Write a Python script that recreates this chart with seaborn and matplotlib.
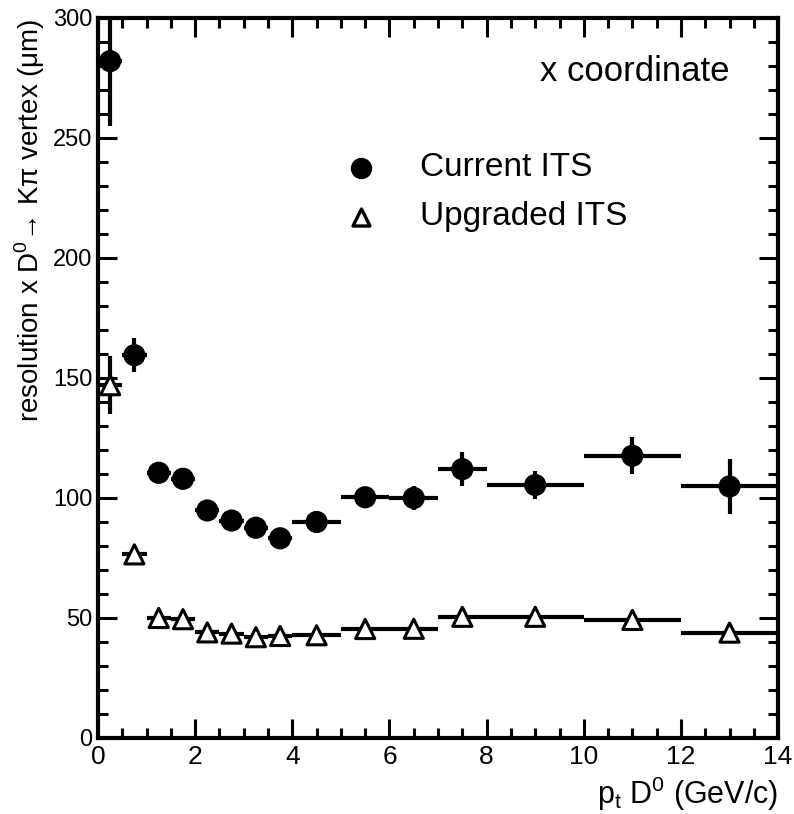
import numpy as np
import pandas as pd
import matplotlib
matplotlib.use("Agg")
import matplotlib.pyplot as plt
import seaborn as sns
from matplotlib.ticker import MultipleLocator

# bins of pt (GeV/c)
pt_lo = [0, 0.5, 1.0, 1.5, 2.0, 2.5, 3.0, 3.5, 4, 5, 6, 7, 8, 10, 12]
pt_hi = [0.5, 1.0, 1.5, 2.0, 2.5, 3.0, 3.5, 4.0, 5, 6, 7, 8, 10, 12, 14]

current_res = [282, 159.5, 110.5, 108, 94.8, 90.6, 87.6, 83.2, 90, 100.3, 100, 112, 105.4, 117.6, 104.8]
current_err = [27, 7, 2, 2, 2, 2, 2, 1.5, 2, 4, 5, 7, 5.7, 7.6, 11.4]

upgraded_res = [147, 76.5, 50, 49.5, 44, 43.5, 42, 42.5, 42.8, 45.4, 45.5, 50.5, 50.5, 49.2, 43.9]
upgraded_err = [12, 2, 1, 1, 1, 1, 1, 1, 1, 1, 1, 1, 1, 1, 1]

pt_mid = [(a + b) / 2 for a, b in zip(pt_lo, pt_hi)]
pt_half = [(b - a) / 2 for a, b in zip(pt_lo, pt_hi)]

df = pd.DataFrame({
    "pt": pt_mid * 2,
    "res": current_res + upgraded_res,
    "its": ["Current ITS"] * len(pt_mid) + ["Upgraded ITS"] * len(pt_mid),
})

sns.set_style("ticks")
plt.rcParams["font.family"] = ["Liberation Sans", "DejaVu Sans"]
plt.rcParams["text.color"] = "black"
plt.rcParams["axes.labelcolor"] = "black"
plt.rcParams["xtick.color"] = "black"
plt.rcParams["ytick.color"] = "black"

fig = plt.figure(figsize=(7.94, 8.14), dpi=100)
ax = fig.add_axes([0.1234, 0.0934, 0.8566, 0.8845])

# error bars (x = bin width)
ax.errorbar(pt_mid, current_res, xerr=pt_half, yerr=current_err, fmt="none",
            ecolor="black", elinewidth=3, capsize=0, zorder=2)
ax.errorbar(pt_mid, upgraded_res, xerr=pt_half, yerr=upgraded_err, fmt="none",
            ecolor="black", elinewidth=3, capsize=0, zorder=2)

sns.scatterplot(data=df, x="pt", y="res", style="its", hue="its",
                markers={"Current ITS": "o", "Upgraded ITS": "^"},
                palette={"Current ITS": "black", "Upgraded ITS": "white"},
                s=190, edgecolor="black", linewidth=2.2, legend=False, ax=ax, zorder=3)

ax.set_xlim(0, 14)
ax.set_ylim(0, 300)
ax.xaxis.set_major_locator(MultipleLocator(2))
ax.xaxis.set_minor_locator(MultipleLocator(0.5))
ax.yaxis.set_major_locator(MultipleLocator(50))
ax.yaxis.set_minor_locator(MultipleLocator(10))
ax.tick_params(which="both", direction="in", top=True, right=True, width=2.2, color="black")
ax.tick_params(which="major", length=14)
ax.tick_params(which="minor", length=7)
ax.tick_params(axis="y", which="both", labelsize=17, pad=4)
ax.tick_params(axis="x", which="both", labelsize=19, pad=5)
for sp in ax.spines.values():
    sp.set_linewidth(3)
    sp.set_color("black")

ax.set_xlabel("p$_\\mathregular{t}$ D$^\\mathregular{0}$ (GeV/c)", fontsize=22, loc="right")
ax.set_ylabel("resolution x D$^\\mathregular{0}$\u2192 K\u03c0 vertex (\u03bcm)",
              fontsize=20, loc="top")

# legend drawn as text + markers in axes coordinates
ax.scatter([0.387], [0.792], transform=ax.transAxes, marker="o", s=180,
           facecolor="black", edgecolor="black", linewidth=2, clip_on=False)
ax.scatter([0.387], [0.724], transform=ax.transAxes, marker="^", s=150,
           facecolor="white", edgecolor="black", linewidth=2.4, clip_on=False)
ax.text(0.474, 0.792, "Current ITS", transform=ax.transAxes, fontsize=24, va="center")
ax.text(0.474, 0.724, "Upgraded ITS", transform=ax.transAxes, fontsize=24, va="center")
ax.text(0.929, 0.925, "x coordinate", transform=ax.transAxes, fontsize=25,
        ha="right", va="center")

fig.savefig("out.png", dpi=100)
